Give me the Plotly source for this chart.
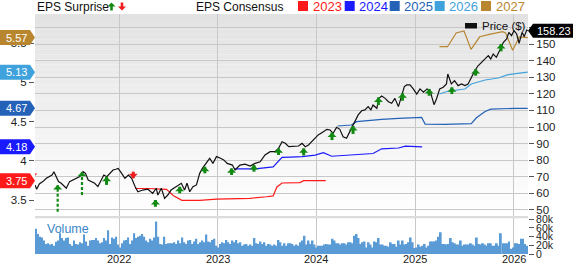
import plotly.graph_objects as go
import pandas as pd

# ---------------- data ----------------
price_dates = [
    "2021-02-23", "2021-03-01", "2021-03-11", "2021-03-24", "2021-04-06", "2021-04-18", "2021-04-27",
    "2021-05-04", "2021-05-13", "2021-05-21", "2021-05-31", "2021-06-13", "2021-06-19", "2021-07-01",
    "2021-07-13", "2021-07-26", "2021-08-08", "2021-08-20", "2021-08-29", "2021-09-08", "2021-09-21",
    "2021-10-02", "2021-10-14", "2021-10-24", "2021-11-05", "2021-11-16", "2021-11-27", "2021-12-09",
    "2021-12-19", "2021-12-28",
    "2022-01-10", "2022-01-22", "2022-02-04", "2022-02-16", "2022-03-01", "2022-03-11", "2022-03-29",
    "2022-04-17", "2022-05-05", "2022-05-18", "2022-05-24", "2022-06-06", "2022-06-18", "2022-06-30",
    "2022-07-12", "2022-07-31", "2022-08-19", "2022-08-31", "2022-09-09", "2022-09-19", "2022-10-01",
    "2022-10-14", "2022-10-26", "2022-11-05", "2022-11-18", "2022-12-02", "2022-12-14", "2022-12-27",
    "2023-01-11", "2023-01-23", "2023-02-05", "2023-02-24", "2023-03-06", "2023-03-24", "2023-04-12",
    "2023-05-01", "2023-05-19", "2023-06-07", "2023-06-25", "2023-07-14", "2023-08-01", "2023-08-14",
    "2023-08-27", "2023-09-08", "2023-09-21", "2023-10-08", "2023-10-27", "2023-11-09", "2023-11-21",
    "2023-12-03", "2023-12-16", "2023-12-28",
    "2024-01-08", "2024-01-27", "2024-02-09", "2024-02-21", "2024-03-03", "2024-03-16", "2024-03-28",
    "2024-04-09", "2024-04-22", "2024-05-04", "2024-05-16", "2024-05-25", "2024-06-04", "2024-06-17",
    "2024-06-29", "2024-07-11", "2024-07-21", "2024-07-29", "2024-08-12", "2024-08-20", "2024-08-30",
    "2024-09-12", "2024-09-24", "2024-10-06", "2024-10-18", "2024-10-31", "2024-11-10", "2024-11-22",
    "2024-12-01", "2024-12-13", "2024-12-25",
    "2025-01-07", "2025-01-19", "2025-02-01", "2025-02-14", "2025-02-26", "2025-03-04", "2025-03-12",
    "2025-03-21", "2025-04-02", "2025-04-15", "2025-04-27", "2025-05-02", "2025-05-09", "2025-05-15",
    "2025-05-27", "2025-06-09", "2025-06-22", "2025-07-04", "2025-07-16", "2025-07-28", "2025-08-10",
    "2025-08-22", "2025-09-05", "2025-09-17", "2025-09-29", "2025-10-08", "2025-10-17", "2025-10-29",
    "2025-11-11", "2025-11-24", "2025-12-06", "2025-12-14", "2025-12-24",
    "2026-01-02", "2026-01-12", "2026-01-21", "2026-02-01", "2026-02-09", "2026-02-18", "2026-02-22",
]
price_values = [
    65.0, 62.4, 65.6, 67.0, 69.0, 70.0, 71.0, 73.0, 70.0, 67.0, 66.0, 63.9, 63.0, 67.0, 68.0,
    69.0, 70.0, 73.0, 72.0, 68.0, 67.0, 66.0, 64.0, 67.0, 71.0, 70.0, 72.0, 74.0, 74.5, 75.0,
    72.0, 69.0, 71.0, 69.0, 63.9, 60.9, 61.9, 62.4, 59.9, 63.0, 58.9, 63.0, 56.9, 58.9, 61.9,
    63.9, 66.0, 61.9, 66.0, 60.9, 63.9, 65.0, 72.0, 75.0, 78.0, 81.1, 78.0, 82.1,
    81.1, 80.1, 78.0, 77.0, 74.0, 77.0, 77.6, 76.4, 78.0, 79.0, 83.1, 85.1, 85.1, 87.1, 91.1,
    90.2, 88.1, 88.1, 88.5, 90.2, 88.1, 89.1, 91.1, 93.2,
    95.2, 97.2, 98.6, 98.2, 96.2, 99.8, 98.6, 94.1, 93.2, 97.2, 101.2, 104.2, 107.3, 109.8,
    110.3, 112.3, 110.3, 113.3, 111.3, 117.3, 118.7, 117.3, 115.3, 114.3, 117.3, 112.3, 118.3,
    124.4, 125.4, 125.4, 123.0,
    119.9, 123.0, 121.0, 123.0, 121.9, 118.0, 113.5, 116.9, 123.0, 124.0, 126.0, 132.0, 129.0,
    126.0, 128.0, 125.0, 126.0, 125.0, 126.0, 130.0, 134.0, 137.0, 139.1, 141.1, 143.1, 141.1,
    144.1, 142.1, 147.1, 151.2, 153.2, 157.2, 155.2,
    158.2, 156.2, 150.6, 157.2, 154.6, 158.6, 158.23,
]

eps_2023_dates = ["2022-03-01", "2022-04-15", "2022-06-25", "2022-07-20", "2022-08-21", "2022-10-26",
                  "2022-12-27", "2023-03-06", "2023-05-01", "2023-07-01", "2023-07-25", "2023-08-08",
                  "2023-08-27", "2023-11-01", "2023-11-15", "2024-02-05"]
eps_2023 = [3.65, 3.65, 3.64, 3.56, 3.50, 3.50, 3.515, 3.525, 3.525, 3.545, 3.555, 3.67,
            3.72, 3.725, 3.75, 3.75]

eps_2024_dates = ["2023-03-06", "2023-05-19", "2023-07-25", "2023-08-27", "2023-09-27", "2023-11-09",
                  "2023-12-28", "2024-01-27", "2024-02-27", "2024-05-10", "2024-07-29", "2024-08-30",
                  "2024-10-31", "2024-11-26", "2025-01-27"]
eps_2024 = [3.90, 3.90, 3.925, 4.045, 4.05, 4.055, 4.075, 4.105, 4.06, 4.075, 4.095, 4.155,
            4.165, 4.19, 4.18]

eps_2025_dates = ["2024-03-20", "2024-05-10", "2024-05-29", "2024-06-29", "2024-08-30", "2024-10-31",
                  "2025-01-01", "2025-01-25", "2025-02-07", "2025-04-20", "2025-07-28", "2025-08-16",
                  "2025-09-17", "2025-10-08", "2026-01-06", "2026-02-22"]
eps_2025 = [4.445, 4.458, 4.50, 4.513, 4.53, 4.543, 4.55, 4.555, 4.47, 4.465, 4.475, 4.55,
            4.63, 4.66, 4.67, 4.67]

eps_2026_dates = ["2025-04-01", "2025-05-02", "2025-07-04", "2025-07-28", "2025-09-17", "2025-11-05",
                  "2025-12-11", "2026-01-17", "2026-02-22"]
eps_2026 = [4.852, 4.887, 4.916, 4.98, 5.03, 5.056, 5.098, 5.116, 5.13]

eps_2027_dates = ["2025-04-01", "2025-05-01", "2025-06-02", "2025-07-01", "2025-07-27", "2025-08-28",
                  "2025-10-03", "2025-11-21", "2025-12-02", "2025-12-28", "2026-01-22", "2026-02-22"]
eps_2027 = [5.454, 5.454, 5.628, 5.654, 5.42, 5.58, 5.61, 5.645, 5.63, 5.41, 5.58, 5.57]

# weekly volume (thousands)
volume_k = [
    58, 46, 40, 38, 31, 23, 25, 22, 23, 19, 28, 31, 48, 37, 31, 37, 38, 23, 19, 31,
    23, 22, 27, 25, 45, 29, 19, 31, 32, 32, 37, 31, 25, 27, 37, 31, 55, 23, 38, 35,
    40, 22, 15, 25, 31, 32, 38, 23, 31, 48, 37, 40, 42, 46, 40, 31, 27, 35, 31, 38,
    75, 40, 23, 22, 40, 23, 25, 25, 25, 27, 23, 31, 25, 38, 27, 23, 31, 32, 23, 29,
    35, 23, 27, 31, 27, 45, 29, 27, 32, 35, 19, 15, 23, 27, 25, 32, 27, 23, 31, 27,
    32, 25, 27, 19, 22, 23, 19, 22, 19, 37, 25, 23, 29, 23, 27, 19, 23, 22, 19, 22,
    19, 32, 27, 19, 25,
    19, 25, 25, 23, 19, 22, 19, 27, 31, 42, 22, 31, 23, 31, 22, 15, 19, 19, 19, 22,
    23, 22, 22, 35, 31, 25, 25, 22, 25, 25, 22, 27, 27, 25, 42, 46, 37, 23, 27, 29,
    15, 27, 22, 15, 29, 27, 37, 22, 22, 19, 19, 17, 27, 23, 23, 17, 31, 22, 31, 22,
    23, 27, 38, 27, 14, 15, 22, 17, 19, 23, 15, 19, 29, 29, 29, 31, 40, 50, 23, 23,
    22, 23, 37, 27, 25, 22, 22, 31, 19, 22, 22, 22, 25, 22, 19, 38, 23, 22, 25, 22,
    19, 25, 25, 19, 19, 25, 19, 48, 25, 25, 25, 29, 12, 15, 25, 25, 23, 35, 35, 23, 19,
]
volume_first_week = "2021-02-27"
volume_last_week = "2026-02-19"

# EPS surprise arrows: date, tip price, tail price, beat?, long dashed?
surprise_dates = ["2021-02-15", "2021-05-18", "2021-08-16", "2021-11-15", "2022-02-22", "2022-05-15",
                  "2022-08-13", "2022-11-14", "2023-02-21", "2023-05-15", "2023-08-14", "2023-11-15",
                  "2024-02-28", "2024-05-16", "2024-08-18", "2024-11-15", "2025-02-22", "2025-05-17",
                  "2025-08-13", "2025-11-15"]
surprise_tip = [69.2, 65.0, 73.0, 70.0, 69.0, 55.9, 63.9, 76.0, 75.0, 77.0, 87.1, 87.1,
                96.6, 100.6, 117.9, 120.4, 123.0, 124.0, 135.0, 150.2]
surprise_tail = [72.2, 48.8, 58.9, 65.0, 73.0, 51.8, 59.9, 72.0, 71.0, 73.0, 83.1, 82.8,
                 92.1, 95.8, 113.3, 115.9, 118.9, 119.9, 131.0, 145.7]
surprise_beat = [False, True, True, True, False, True, True, True, True, True, True, True,
                 True, True, True, True, True, True, True, True]
surprise_dashed = [False, True, True, False, False, False, False, False, False, False, False, False,
                   False, False, False, False, False, False, False, False]

year_ticks = ["2022-01-01", "2023-01-01", "2024-01-01", "2025-01-01", "2026-01-01"]
year_labels = ["2022", "2023", "2024", "2025", "2026"]
price_ticks = [50, 60, 70, 80, 90, 100, 110, 120, 130, 140, 150, 160]
# the 160 label sits under the last-price badge, so it is not shown
price_tick_labels = ["50", "60", "70", "80", "90", "100", "110", "120", "130", "140", "150", ""]
eps_ticks = [3.5, 4, 4.5, 5, 5.5]
eps_tick_labels = ["3.5", "4", "4.5", "5", "5.5"]
volume_ticks = [0, 20, 40, 60, 80]
volume_tick_labels = ["0", "20k", "40k", "60k", "80k"]

series = [
    ("2023", eps_2023_dates, eps_2023, "#ff1a1a"),
    ("2024", eps_2024_dates, eps_2024, "#1a1aff"),
    ("2025", eps_2025_dates, eps_2025, "#2462b8"),
    ("2026", eps_2026_dates, eps_2026, "#3fa2dc"),
    ("2027", eps_2027_dates, eps_2027, "#b8862f"),
]

# ---------------- layout geometry ----------------
W, H = 573, 264
ML, MR, MT, MB = 35, 45, 14, 10
PW, PH = W - ML - MR, H - MT - MB
FONT = "Liberation Sans, Arial, sans-serif"


def px_x(px):
    return (px - ML) / PW


def px_y(py):
    return (H - MB - py) / PH


main_bottom = px_y(216)
vol_top = px_y(218.3)

GREEN = "#138a13"
RED = "#ee1c1c"

fig = go.Figure()

vol_dates = pd.date_range(volume_first_week, volume_last_week, periods=len(volume_k))
fig.add_trace(go.Bar(x=vol_dates, y=volume_k, xaxis="x", yaxis="y3",
                     marker=dict(color="#5b9bd5", line=dict(width=0)), showlegend=False,
                     hoverinfo="skip"))

for name, d, v, c in series:
    fig.add_trace(go.Scatter(x=d, y=v, mode="lines", line=dict(color=c, width=1.2),
                             xaxis="x", yaxis="y", showlegend=False, hoverinfo="skip"))

fig.add_trace(go.Scatter(x=price_dates, y=price_values, mode="lines",
                         line=dict(color="#111111", width=1.2), xaxis="x", yaxis="y2",
                         showlegend=False, hoverinfo="skip"))

shapes = []
# gradient background of the main panel
n_strips = 40
for i in range(n_strips):
    y0 = main_bottom + (1 - main_bottom) * i / n_strips
    y1 = main_bottom + (1 - main_bottom) * (i + 1) / n_strips
    t = (i + 0.5) / n_strips
    c = int(round(255 - 29 * t))
    shapes.append(dict(type="rect", xref="paper", yref="paper", x0=0, x1=1, y0=y0, y1=y1,
                       fillcolor=f"rgb({c},{c},{c})", line=dict(width=0), layer="below"))
# separator band between panels
shapes.append(dict(type="rect", xref="paper", yref="paper", x0=0, x1=1, y0=vol_top, y1=main_bottom,
                   fillcolor="#dcdcdc", line=dict(width=0), layer="below"))

# EPS surprise arrows
for d, tip, tail, beat, dashed in zip(surprise_dates, surprise_tip, surprise_tail,
                                      surprise_beat, surprise_dashed):
    col = GREEN if beat else RED
    shapes.append(dict(type="line", xref="x", yref="y2", x0=d, x1=d, y0=tail, y1=tip,
                       line=dict(color=col, width=2.2 if dashed else 3,
                                 dash="3px,2px" if dashed else "solid"), layer="above"))
    head = "M0,0 L-4.5,-4.5 L4.5,-4.5 Z" if beat else "M0,0 L-4.5,4.5 L4.5,4.5 Z"
    shapes.append(dict(type="path", xref="x", yref="y2", xsizemode="pixel", ysizemode="pixel",
                       xanchor=d, yanchor=tip, path=head, fillcolor=col, line=dict(width=0),
                       layer="above"))

# legend arrows
shapes.append(dict(type="path", xref="paper", yref="paper", xsizemode="pixel", ysizemode="pixel",
                   xanchor=px_x(111.5), yanchor=px_y(2.5),
                   path="M0,0 L-4,-4 L-1.3,-4 L-1.3,-8 L1.3,-8 L1.3,-4 L4,-4 Z",
                   fillcolor=GREEN, line=dict(width=0)))
shapes.append(dict(type="path", xref="paper", yref="paper", xsizemode="pixel", ysizemode="pixel",
                   xanchor=px_x(122), yanchor=px_y(10.5),
                   path="M0,0 L-4,4 L-1.3,4 L-1.3,8 L1.3,8 L1.3,4 L4,4 Z",
                   fillcolor=RED, line=dict(width=0)))

annotations = []
annotations.append(dict(text="EPS Surprise", xref="paper", yref="paper", x=px_x(35), y=px_y(6.5),
                        xanchor="left", yanchor="middle", showarrow=False,
                        font=dict(family=FONT, size=12, color="#111")))
annotations.append(dict(text="EPS Consensus", xref="paper", yref="paper", x=px_x(285), y=px_y(6.5),
                        xanchor="right", yanchor="middle", showarrow=False,
                        font=dict(family=FONT, size=12, color="#111")))
legend_x = [298, 344.7, 389.7, 434.7, 481]
for (name, d, v, c), lx in zip(series, legend_x):
    shapes.append(dict(type="rect", xref="paper", yref="paper", x0=px_x(lx), x1=px_x(lx + 10),
                       y0=px_y(11), y1=px_y(1), fillcolor=c, line=dict(width=0)))
    annotations.append(dict(text=name, xref="paper", yref="paper", x=px_x(lx + 12.5), y=px_y(6.5),
                            xanchor="left", yanchor="middle", showarrow=False,
                            font=dict(family=FONT, size=13, color=c)))

# Price legend inside plot
shapes.append(dict(type="rect", xref="paper", yref="paper", x0=px_x(465), x1=px_x(477),
                   y0=px_y(28.5), y1=px_y(23), fillcolor="#111", line=dict(width=0)))
annotations.append(dict(text="Price ($)", xref="paper", yref="paper", x=px_x(479.5), y=px_y(25.5),
                        xanchor="left", yanchor="middle", showarrow=False,
                        font=dict(family=FONT, size=11.5, color="#111")))

# Volume label
annotations.append(dict(text="Volume", xref="paper", yref="paper", x=px_x(44.5), y=px_y(228.5),
                        xanchor="left", yanchor="middle", showarrow=False,
                        font=dict(family=FONT, size=12.5, color="#3a86c8")))

# year labels under the volume panel
for tv, tl in zip(year_ticks, year_labels):
    annotations.append(dict(text=tl, xref="x", yref="paper", x=tv, y=px_y(258.8),
                            xanchor="center", yanchor="middle", showarrow=False,
                            font=dict(family=FONT, size=11, color="#222")))

# left EPS badges (latest consensus of each year)
for name, d, v, c in series:
    val = v[-1]
    shapes.append(dict(type="path", xref="paper", yref="y", xsizemode="pixel", ysizemode="pixel",
                       xanchor=0, yanchor=val,
                       path="M-35,-7.5 L-5,-7.5 L0,0 L-5,7.5 L-35,7.5 Z",
                       fillcolor=c, line=dict(width=0), layer="above"))
    annotations.append(dict(text=f"{val:.2f}", xref="paper", yref="y", x=0, y=val,
                            xanchor="center", yanchor="middle", xshift=-19, showarrow=False,
                            font=dict(family=FONT, size=11, color="white")))

# right price badge
last_price = price_values[-1]
shapes.append(dict(type="path", xref="paper", yref="y2", xsizemode="pixel", ysizemode="pixel",
                   xanchor=1, yanchor=last_price,
                   path="M0,0 L5,-7 L46,-7 L46,7 L5,7 Z",
                   fillcolor="#000000", line=dict(width=0), layer="above"))
annotations.append(dict(text=f"{last_price:.2f}", xref="paper", yref="y2", x=1, y=last_price,
                        xanchor="center", yanchor="middle", xshift=25.5, showarrow=False,
                        font=dict(family=FONT, size=11, color="white")))

tickfont = dict(family=FONT, size=11.5, color="#222")

fig.update_layout(
    template="none",
    width=W, height=H,
    margin=dict(l=ML, r=MR, t=MT, b=MB, pad=0),
    paper_bgcolor="white",
    plot_bgcolor="rgba(0,0,0,0)",
    showlegend=False,
    bargap=0.12,
    font=dict(family=FONT, size=11, color="#222"),
    xaxis=dict(type="date", range=["2021-02-23", "2026-02-23"], domain=[0, 1], anchor="y3",
               tickvals=year_ticks, ticktext=year_labels, showticklabels=False,
               showgrid=True, gridcolor="#c8c8c8",
               gridwidth=1, ticks="", showline=False, zeroline=False, automargin=False),
    yaxis=dict(domain=[main_bottom, 1], range=[3.30, 5.87], side="left", anchor="x",
               tickvals=eps_ticks, ticktext=eps_tick_labels, showgrid=False, zeroline=False,
               ticks="outside", ticklen=5, tickcolor="#555", showline=False, automargin=False,
               tickfont=tickfont),
    yaxis2=dict(overlaying="y", range=[46.22, 168.28], side="right", anchor="x",
                tickvals=price_ticks, ticktext=price_tick_labels, showgrid=True,
                gridcolor="#c8c8c8", gridwidth=1,
                zeroline=False, ticks="outside", ticklen=5, tickcolor="#555", showline=False,
                automargin=False, tickfont=tickfont),
    yaxis3=dict(domain=[0, vol_top], range=[0, 82.3], side="right", anchor="x",
                tickvals=volume_ticks, ticktext=volume_tick_labels, showgrid=False,
                zeroline=False, ticks="outside", ticklen=5, tickcolor="#555", showline=False,
                automargin=False, tickfont=dict(family=FONT, size=10.5, color="#222")),
    shapes=shapes,
    annotations=annotations,
)

fig.write_html("out.html")
